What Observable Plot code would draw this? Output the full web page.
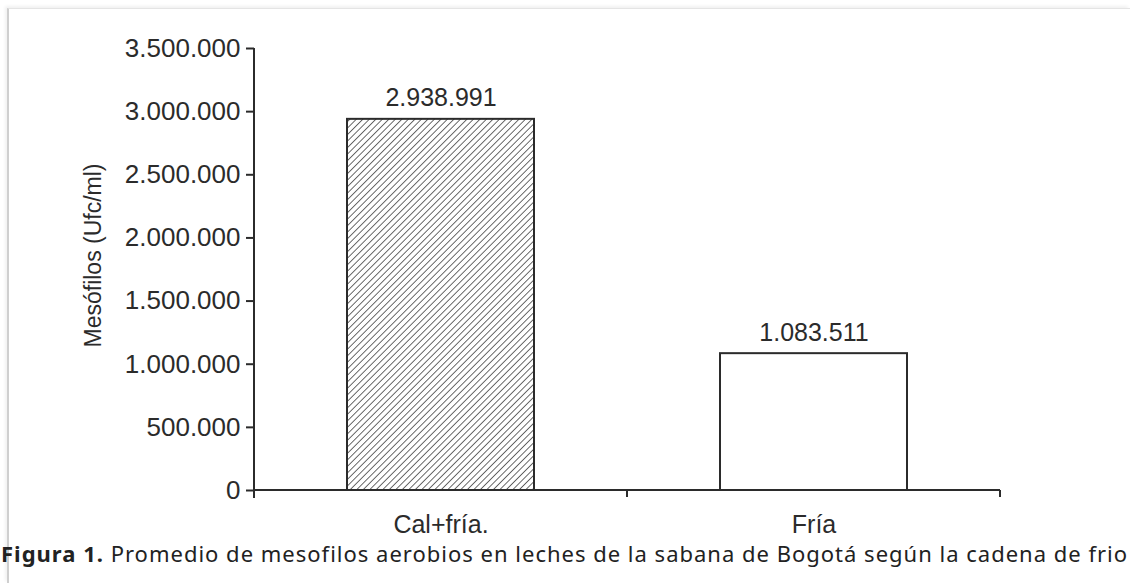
<!DOCTYPE html>
<html>
<head>
<meta charset="utf-8">
<script src="https://cdn.jsdelivr.net/npm/d3@7"></script>
<script src="https://cdn.jsdelivr.net/npm/@observablehq/plot@0.6"></script>
<style>
  html, body { margin: 0; padding: 0; background: #fff; width: 1130px; height: 583px; overflow: hidden; }
  #wrap { position: relative; width: 1130px; height: 583px; }
  #frame { position: absolute; left: 7px; top: 8px; right: 0; bottom: 0;
           border-left: 2px solid #cfcfcf; border-top: 1px solid #e4e4e4;
           box-shadow: -2px -2px 3px rgba(0,0,0,0.06); }
  #chart { position: absolute; left: 0; top: 0; }
  #caption { position: absolute; left: 1px; top: 539px; white-space: nowrap;
             font-family: "Noto Sans", sans-serif; font-size: 22px; letter-spacing: 1px; color: #222; line-height: 28px; }
  #caption b { font-weight: 700; }
</style>
</head>
<body>
<div id="wrap">
  <div id="frame"></div>
  <div id="chart"></div>
  <div id="caption"><b>Figura 1.</b> Promedio de mesofilos aerobios en leches de la sabana de Bogotá según la cadena de frio</div>
</div>
<script>
// Data
const categories = ["Cal+fría.", "Fría"];
const values = [2938991, 1083511];
const yTicks = [0, 500000, 1000000, 1500000, 2000000, 2500000, 3000000, 3500000];
const yLabel = "Mesófilos (Ufc/ml)";

const data = categories.map((c, i) => ({cat: c, value: values[i]}));
const fmt = d3.formatLocale({decimal: ",", thousands: ".", grouping: [3], currency: ["", ""]}).format(",d");

const font = "'Liberation Sans', Arial, sans-serif";
const ink = "#2b2b2b";

// hatch pattern defs
function hatchDefs() {
  const svgNS = "http://www.w3.org/2000/svg";
  const defs = document.createElementNS(svgNS, "defs");
  defs.innerHTML = `<pattern id="hatch" patternUnits="userSpaceOnUse" width="4.6" height="4.6" patternTransform="rotate(45)">
      <rect width="4.6" height="4.6" fill="#ffffff"></rect>
      <line x1="0" y1="0" x2="0" y2="4.6" stroke="#5a5a5a" stroke-width="1.8"></line>
    </pattern>`;
  return defs;
}

// axis lines + band-boundary ticks derived from scales
function axisLines(index, scales, values, dimensions) {
  const svgNS = "http://www.w3.org/2000/svg";
  const g = document.createElementNS(svgNS, "g");
  const x = scales.x, y = scales.y;
  const [r0, r1] = x.range();
  const y0 = y(0), yTop = y(yTicks[yTicks.length - 1]);
  const step = x.step();
  const add = (x1, y1, x2, y2) => {
    const l = document.createElementNS(svgNS, "line");
    l.setAttribute("x1", x1); l.setAttribute("y1", y1);
    l.setAttribute("x2", x2); l.setAttribute("y2", y2);
    l.setAttribute("stroke", ink); l.setAttribute("stroke-width", 2);
    g.appendChild(l);
  };
  add(r0, yTop, r0, y0 + 8);  // y axis line
  add(r0, y0, r1, y0);        // x axis line
  // ticks at band boundaries
  const start = x(categories[0]) - (step - x.bandwidth()) / 2;
  for (let i = 1; i <= categories.length; i++) {
    const bx = start + i * step;
    add(bx, y0, bx, y0 + 7);
  }
  return g;
}

const plot = Plot.plot({
  width: 1130,
  height: 540,
  marginLeft: 254,
  marginRight: 130,
  marginTop: 48,
  marginBottom: 50,
  style: {fontFamily: font, color: ink, background: "transparent"},
  x: {domain: categories, paddingInner: 0.5, paddingOuter: 0.25},
  y: {domain: [0, 3500000]},
  marks: [
    hatchDefs,
    Plot.barY(data.filter(d => d.cat === categories[0]), {x: "cat", y: "value", fill: "url(#hatch)", stroke: ink, strokeWidth: 2}),
    Plot.barY(data.filter(d => d.cat !== categories[0]), {x: "cat", y: "value", fill: "white", stroke: ink, strokeWidth: 2}),
    axisLines,
    Plot.text(data, {x: "cat", y: "value", text: d => fmt(d.value), dy: -13, lineAnchor: "bottom", fontSize: 25, fill: ink}),
    Plot.axisY({ticks: yTicks, tickFormat: fmt, tickSize: 8, tickPadding: 6, fontSize: 26, stroke: ink, strokeWidth: 2, label: null}),
    Plot.axisX({tickSize: 0, tickPadding: 25, fontSize: 25, label: null}),
    Plot.text([yLabel], {frameAnchor: "left", textAnchor: "middle", rotate: -90, dx: -161, dy: -14, fontSize: 23, fill: ink})
  ]
});
document.getElementById("chart").appendChild(plot);
</script>
</body>
</html>
